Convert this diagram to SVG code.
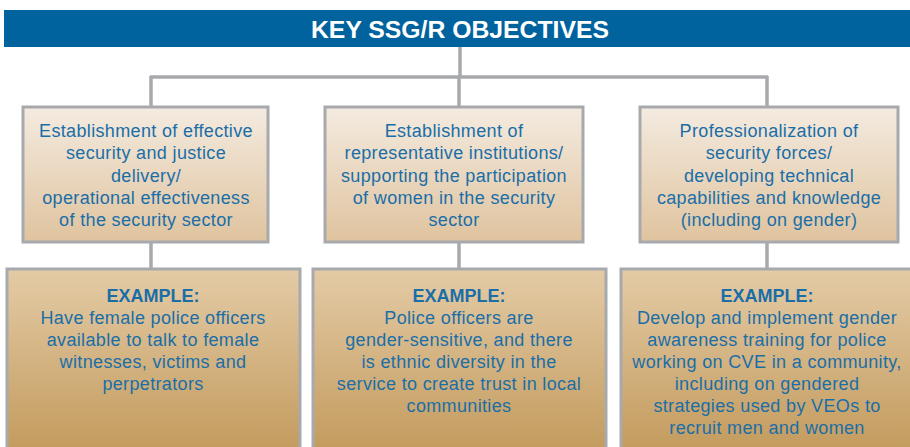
<svg xmlns="http://www.w3.org/2000/svg" width="910" height="447" viewBox="0 0 910 447">
<defs>
<linearGradient id="gTop" x1="0" y1="0" x2="0" y2="1">
<stop offset="0" stop-color="#f4ebe0"/>
<stop offset="1" stop-color="#dfc39e"/>
</linearGradient>
<linearGradient id="gBot" x1="0" y1="0" x2="0" y2="1">
<stop offset="0" stop-color="#e4cba6"/>
<stop offset="1" stop-color="#c29a5c"/>
</linearGradient>
<style>
.box{stroke:#a8a9ad;stroke-width:3}
.top{fill:url(#gTop)}
.bot{fill:url(#gBot)}
.conn{stroke:#a8a9ad;stroke-width:3.5;fill:none}
.t{font-family:"Liberation Sans",Arial,sans-serif;font-size:18px;letter-spacing:0.35px;fill:#1a6ea8;text-anchor:middle}
.b{font-weight:bold;letter-spacing:0}
.title{font-family:"Liberation Sans",Arial,sans-serif;font-size:23px;font-weight:bold;fill:#ffffff;text-anchor:middle}
</style>
</defs>
<rect width="910" height="447" fill="#ffffff"/>
<g id="connectors">
<path class="conn" d="M460 47 V77 M150 77 H768 M151 76 V108 M459 76 V108 M767 76 V108 M151 242 V270 M459 242 V270 M767 242 V270"/>
</g>
<g id="title">
<rect x="4" y="10" width="906" height="37" fill="#00639e"/>
<text class="title" x="460" y="38" textLength="298" lengthAdjust="spacingAndGlyphs">KEY SSG/R OBJECTIVES</text>
</g>
<g id="obj1">
<rect class="box top" x="23" y="107" width="245" height="135"/>
<text class="t" x="146" y="137">Establishment of effective</text>
<text class="t" x="146" y="159">security and justice</text>
<text class="t" x="146" y="181.5">delivery/</text>
<text class="t" x="146" y="204">operational effectiveness</text>
<text class="t" x="146" y="226">of the security sector</text>
</g>
<g id="obj2">
<rect class="box top" x="325" y="107" width="258" height="135"/>
<text class="t" x="454" y="137">Establishment of</text>
<text class="t" x="454" y="159">representative institutions/</text>
<text class="t" x="454" y="181.5">supporting the participation</text>
<text class="t" x="454" y="204">of women in the security</text>
<text class="t" x="454" y="226">sector</text>
</g>
<g id="obj3">
<rect class="box top" x="640" y="107" width="258" height="135"/>
<text class="t" x="769" y="137">Professionalization of</text>
<text class="t" x="769" y="159">security forces/</text>
<text class="t" x="769" y="181.5">developing technical</text>
<text class="t" x="769" y="204">capabilities and knowledge</text>
<text class="t" x="769" y="226">(including on gender)</text>
</g>
<g id="ex1">
<rect class="box bot" x="7" y="269" width="293" height="185"/>
<text class="t b" x="153" y="301.5">EXAMPLE:</text>
<text class="t" x="153" y="323.5">Have female police officers</text>
<text class="t" x="153" y="345.5">available to talk to female</text>
<text class="t" x="153" y="367.5">witnesses, victims and</text>
<text class="t" x="153" y="389.5">perpetrators</text>
</g>
<g id="ex2">
<rect class="box bot" x="313" y="269" width="293" height="185"/>
<text class="t b" x="459" y="301.5">EXAMPLE:</text>
<text class="t" x="459" y="323.5">Police officers are</text>
<text class="t" x="459" y="345.5">gender-sensitive, and there</text>
<text class="t" x="459" y="367.5">is ethnic diversity in the</text>
<text class="t" x="459" y="389.5">service to create trust in local</text>
<text class="t" x="459" y="411.5">communities</text>
</g>
<g id="ex3">
<rect class="box bot" x="621" y="269" width="300" height="185"/>
<text class="t b" x="767" y="301.5">EXAMPLE:</text>
<text class="t" x="767" y="323.5">Develop and implement gender</text>
<text class="t" x="767" y="345.5">awareness training for police</text>
<text class="t" x="767" y="367.5">working on CVE in a community,</text>
<text class="t" x="767" y="389.5">including on gendered</text>
<text class="t" x="767" y="411.5">strategies used by VEOs to</text>
<text class="t" x="767" y="433.5">recruit men and women</text>
</g>
</svg>
